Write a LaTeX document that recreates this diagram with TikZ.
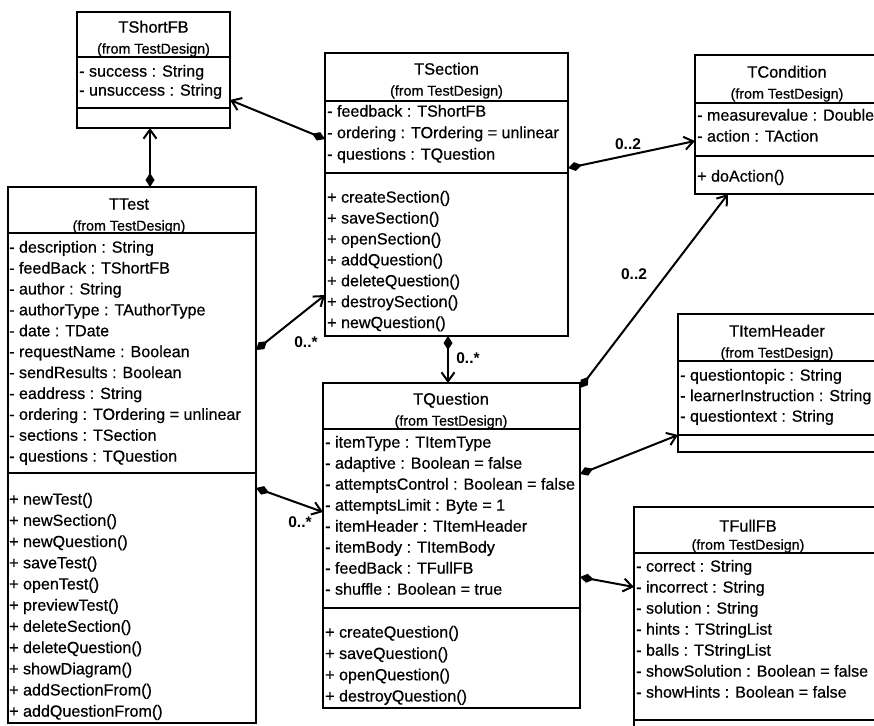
\documentclass[tikz,border=0pt]{standalone}
\usepackage{fontspec}
\setmainfont{Liberation Sans}
\newfontfamily\umlfam{Liberation Sans}[FakeBold=0.6]
\usetikzlibrary{arrows.meta}
\newcommand\memfont{\umlfam\fontsize{16.1}{18}\selectfont}
\newcommand\titlefont{\umlfam\fontsize{16.4}{19}\selectfont}
\newcommand\fromfont{\umlfam\fontsize{14.3}{16}\selectfont}
\newcommand\multfont{\fontsize{15.5}{18}\selectfont\bfseries}

\begin{document}
\begin{tikzpicture}[x=1pt,y=-1pt,
  classbox/.style={draw, line width=2pt, inner sep=0pt, outer sep=0pt, anchor=north west},
  sepline/.style={line width=1.8pt},
  ctitle/.style={font=\titlefont, inner sep=0pt, anchor=mid, yshift=-3pt},
  cfrom/.style={font=\fromfont, inner sep=0pt, anchor=mid, yshift=-3pt},
  member/.style={font=\memfont, inner sep=0pt, anchor=mid west, yshift=-3pt},
  assoc/.style={line width=2pt, {Diamond[length=14pt,width=9pt]}-{Straight Barb[length=9pt,width=13pt]}},
  mult/.style={font=\multfont, inner sep=0pt, yshift=-1pt}]

\useasboundingbox (0,0) rectangle (874,725);
\fill[white] (0,0) rectangle (874,725);
\clip (0,0) rectangle (874,725);

% ---------- TShortFB ----------
\node[classbox, minimum width=153pt, minimum height=116pt] (tshortfb) at (77,12) {};
\draw[sepline] (77,57) -- (230,57);
\draw[sepline] (77,108) -- (230,108);
\node[ctitle] (tshortfb-t) at (153.5,27) {TShortFB};
\node[cfrom]  (tshortfb-f) at (153.5,48) {(from TestDesign)};
\node[member] (tshortfb-a0) at (79,71) {- success : String};
\node[member] (tshortfb-a1) at (79,90) {- unsuccess : String};

% ---------- TSection ----------
\node[classbox, minimum width=243pt, minimum height=283pt] (tsection) at (325,53) {};
\draw[sepline] (325,101) -- (568,101);
\draw[sepline] (325,173) -- (568,173);
\node[ctitle] (tsection-t) at (446.5,69) {TSection};
\node[cfrom]  (tsection-f) at (446.5,90) {(from TestDesign)};
\foreach \t [count=\i from 0] in {{- feedback : TShortFB},{- ordering : TOrdering = unlinear},{- questions : TQuestion}}
  \node[member] (tsection-a\i) at (327,111+21.5*\i) {\t};
\foreach \t [count=\i from 0] in {{+ createSection()},{+ saveSection()},{+ openSection()},{+ addQuestion()},{+ deleteQuestion()},{+ destroySection()},{+ newQuestion()}}
  \node[member] (tsection-o\i) at (327,197+20.9*\i) {\t};

% ---------- TCondition ----------
\node[classbox, minimum width=185pt, minimum height=139pt] (tcondition) at (695,55) {};
\draw[sepline] (695,103) -- (880,103);
\draw[sepline] (695,156) -- (880,156);
\node[ctitle] (tcondition-t) at (787,72) {TCondition};
\node[cfrom]  (tcondition-f) at (787,93) {(from TestDesign)};
\node[member] (tcondition-a0) at (697,115) {- measurevalue : Double};
\node[member] (tcondition-a1) at (697,136) {- action : TAction};
\node[member] (tcondition-o0) at (697,176) {+ doAction()};

% ---------- TTest ----------
\node[classbox, minimum width=248pt, minimum height=536pt] (ttest) at (8,187) {};
\draw[sepline] (8,233) -- (256,233);
\draw[sepline] (8,473) -- (256,473);
\node[ctitle] (ttest-t) at (129,204) {TTest};
\node[cfrom]  (ttest-f) at (129,225) {(from TestDesign)};
\foreach \t [count=\i from 0] in {{- description : String},{- feedBack : TShortFB},{- author : String},{- authorType : TAuthorType},{- date : TDate},{- requestName : Boolean},{- sendResults : Boolean},{- eaddress : String},{- ordering : TOrdering = unlinear},{- sections : TSection},{- questions : TQuestion}}
  \node[member] (ttest-a\i) at (9,247+20.9*\i) {\t};
\foreach \t [count=\i from 0] in {{+ newTest()},{+ newSection()},{+ newQuestion()},{+ saveTest()},{+ openTest()},{+ previewTest()},{+ deleteSection()},{+ deleteQuestion()},{+ showDiagram()},{+ addSectionFrom()},{+ addQuestionFrom()}}
  \node[member] (ttest-o\i) at (9,499+21.2*\i) {\t};

% ---------- TQuestion ----------
\node[classbox, minimum width=257pt, minimum height=325pt] (tquestion) at (323,383) {};
\draw[sepline] (323,429) -- (580,429);
\draw[sepline] (323,608) -- (580,608);
\node[ctitle] (tquestion-t) at (451,399) {TQuestion};
\node[cfrom]  (tquestion-f) at (451,420) {(from TestDesign)};
\foreach \t [count=\i from 0] in {{- itemType : TItemType},{- adaptive : Boolean = false},{- attemptsControl : Boolean = false},{- attemptsLimit : Byte = 1},{- itemHeader : TItemHeader},{- itemBody : TItemBody},{- feedBack : TFullFB},{- shuffle : Boolean = true}}
  \node[member] (tquestion-a\i) at (325,442+21*\i) {\t};
\foreach \t [count=\i from 0] in {{+ createQuestion()},{+ saveQuestion()},{+ openQuestion()},{+ destroyQuestion()}}
  \node[member] (tquestion-o\i) at (325,632+21.3*\i) {\t};

% ---------- TItemHeader ----------
\node[classbox, minimum width=202pt, minimum height=138pt] (titemheader) at (678,314) {};
\draw[sepline] (678,361) -- (880,361);
\draw[sepline] (678,435) -- (880,435);
\node[ctitle] (titemheader-t) at (777,331) {TItemHeader};
\node[cfrom]  (titemheader-f) at (777,352) {(from TestDesign)};
\foreach \t [count=\i from 0] in {{- questiontopic : String},{- learnerInstruction : String},{- questiontext : String}}
  \node[member] (titemheader-a\i) at (680,375+20.5*\i) {\t};

% ---------- TFullFB ----------
\node[classbox, minimum width=246pt, minimum height=240pt] (tfullfb) at (634,507) {};
\draw[sepline] (634,553) -- (880,553);
\draw[sepline] (634,720) -- (880,720);
\node[ctitle] (tfullfb-t) at (748,526) {TFullFB};
\node[cfrom]  (tfullfb-f) at (748,544) {(from TestDesign)};
\foreach \t [count=\i from 0] in {{- correct : String},{- incorrect : String},{- solution : String},{- hints : TStringList},{- balls : TStringList},{- showSolution : Boolean = false},{- showHints : Boolean = false}}
  \node[member] (tfullfb-a\i) at (636,566+21*\i) {\t};

% ---------- association end points ----------
\coordinate (sec-fb)   at (tsection.west |- 0,139);
\coordinate (fb-sec)   at (tshortfb.east |- 0,100);
\coordinate (test-fb)  at (tshortfb.south -| 150,0);
\coordinate (fb-test)  at (ttest.north -| 150,0);
\coordinate (test-s1)  at (ttest.east |- 0,350);
\coordinate (sec-in)   at (tsection.west |- 0,295);
\coordinate (test-s2)  at (ttest.east |- 0,488);
\coordinate (q-in)     at (tquestion.west |- 0,512);
\coordinate (sec-out)  at (tsection.south -| 448,0);
\coordinate (q-top)    at (tquestion.north -| 448,0);
\coordinate (sec-cond) at (tsection.east |- 0,168);
\coordinate (cond-in)  at (tcondition.west |- 0,141);
\coordinate (q-cond)   at (tquestion.east |- 0,388);
\coordinate (cond-bot) at (tcondition.south -| 728,0);
\coordinate (q-head)   at (tquestion.east |- 0,474);
\coordinate (head-in)  at (titemheader.west |- 0,435);
\coordinate (q-full)   at (tquestion.east |- 0,577);
\coordinate (full-in)  at (tfullfb.west |- 0,587);

% ---------- associations ----------
\draw[assoc] (sec-fb) -- (fb-sec);
\draw[assoc] (fb-test) -- (test-fb);
\draw[assoc] (test-s1) -- (sec-in);
\draw[assoc] (test-s2) -- (q-in);
\draw[assoc] (sec-out) -- (q-top);
\draw[assoc] (sec-cond) -- (cond-in);
\draw[assoc] (q-cond) -- (cond-bot);
\draw[assoc] (q-head) -- (head-in);
\draw[assoc] (q-full) -- (full-in);

% ---------- multiplicities ----------
\node[mult] (m-test-sec)  at (306,341) {0..*};
\node[mult] (m-test-q)    at (300,521) {0..*};
\node[mult] (m-sec-q)     at (468,357) {0..*};
\node[mult] (m-sec-cond)  at (628,143) {0..2};
\node[mult] (m-q-cond)    at (634,273) {0..2};
\end{tikzpicture}
\end{document}
